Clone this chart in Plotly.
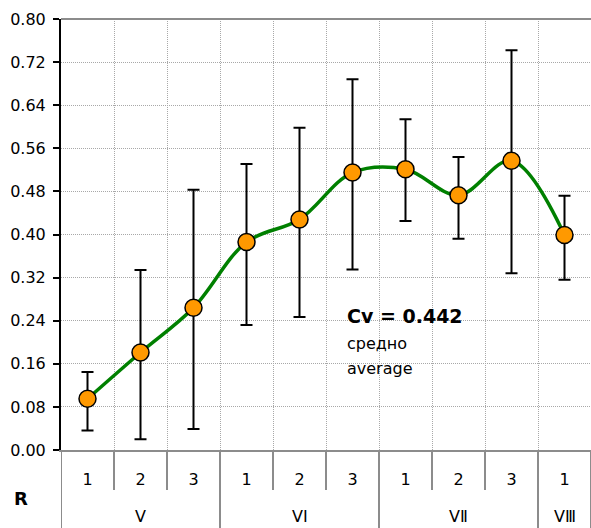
import plotly.graph_objects as go

# Sub-period labels and their grouping (Roman-numeral classes)
sub_labels = ["1", "2", "3", "1", "2", "3", "1", "2", "3", "1"]
group_labels = ["V", "VⅠ", "VⅡ", "VⅢ"]
group_sizes = [3, 3, 3, 1]

# Mean values with asymmetric spread
means = [0.095, 0.181, 0.264, 0.386, 0.428, 0.515, 0.521, 0.473, 0.537, 0.399]
upper = [0.145, 0.334, 0.483, 0.531, 0.598, 0.688, 0.614, 0.544, 0.742, 0.472]
lower = [0.036, 0.020, 0.039, 0.232, 0.247, 0.335, 0.425, 0.392, 0.328, 0.316]

y_ticks = [0.0, 0.08, 0.16, 0.24, 0.32, 0.40, 0.48, 0.56, 0.64, 0.72, 0.80]
cv_text = "Cv = 0.442"
avg_lines = ["средно", "average"]

xs = list(range(len(means)))
err_plus = [u - m for u, m in zip(upper, means)]
err_minus = [m - l for m, l in zip(means, lower)]

FONT = "DejaVu Sans, Liberation Sans, Arial, sans-serif"
GRID = "#a8a8a8"
GRID_DASH = "1px,1px"
FRAME = "#8c8c8c"

fig = go.Figure()

# smoothed trend line
fig.add_trace(go.Scatter(
    x=xs, y=means, mode="lines",
    line=dict(color="#008000", width=3.5, shape="spline", smoothing=1.0),
    hoverinfo="skip", showlegend=False,
))

# spread whiskers
fig.add_trace(go.Scatter(
    x=xs, y=means, mode="markers",
    marker=dict(size=1, color="rgba(0,0,0,0)"),
    error_y=dict(type="data", symmetric=False, array=err_plus, arrayminus=err_minus,
                 color="black", thickness=2, width=6),
    showlegend=False,
))

# mean markers
fig.add_trace(go.Scatter(
    x=xs, y=means, mode="markers",
    marker=dict(size=17, color="#FF9900", line=dict(color="black", width=1.5)),
    showlegend=False,
))

# boundaries between sub-periods and between groups
boundaries = [i + 0.5 for i in range(-1, len(xs))]
group_edges = [-0.5]
acc = -0.5
for n in group_sizes:
    acc += n
    group_edges.append(acc)

shapes = []
for b in boundaries:
    depth = 78 if b in group_edges else 40
    shapes.append(dict(type="line", xref="x", yref="paper", x0=b, x1=b,
                       y0=0, y1=-depth / 431, line=dict(color=FRAME, width=2)))
# top frame line
shapes.append(dict(type="line", xref="paper", yref="paper", x0=0, x1=1, y0=1, y1=1,
                   line=dict(color=FRAME, width=2)))

annotations = []
start = 0
for g, n in zip(group_labels, group_sizes):
    center = start + (n - 1) / 2
    annotations.append(dict(x=center, y=-66 / 431, xref="x", yref="paper",
                            text=g, showarrow=False, xanchor="center", yanchor="middle",
                            font=dict(family=FONT, size=16, color="black")))
    start += n

annotations.append(dict(x=-40 / 530, y=-48 / 431, xref="paper", yref="paper",
                        text="<b>R</b>", showarrow=False, xanchor="center", yanchor="middle",
                        font=dict(family=FONT, size=18, color="black")))

annotations.append(dict(x=4.86, y=0.249, xref="x", yref="y", text="<b>" + cv_text + "</b>",
                        showarrow=False, xanchor="left", yanchor="middle",
                        font=dict(family=FONT, size=19, color="black")))
annotations.append(dict(x=4.86, y=0.197, xref="x", yref="y", text=avg_lines[0],
                        showarrow=False, xanchor="left", yanchor="middle",
                        font=dict(family=FONT, size=16, color="black")))
annotations.append(dict(x=4.86, y=0.152, xref="x", yref="y", text=avg_lines[1],
                        showarrow=False, xanchor="left", yanchor="middle",
                        font=dict(family=FONT, size=16, color="black")))

fig.update_layout(
    width=591, height=528,
    margin=dict(l=61, r=0, t=19, b=78),
    paper_bgcolor="white", plot_bgcolor="white",
    font=dict(family=FONT, size=16, color="black"),
    shapes=shapes, annotations=annotations,
    xaxis=dict(
        range=[-0.5, len(xs) - 0.5], tickmode="array", tickvals=xs, ticktext=sub_labels,
        showgrid=False, zeroline=False, ticks="", ticklabelstandoff=14,
        showline=True, linecolor=FRAME, linewidth=2,
        tickfont=dict(family=FONT, size=16),
        minor=dict(tickmode="array", tickvals=boundaries[1:-1], showgrid=True,
                   gridcolor=GRID, gridwidth=1, griddash=GRID_DASH, ticks=""),
        fixedrange=True,
    ),
    yaxis=dict(
        range=[0, 0.8], tickmode="array", tickvals=y_ticks, tickformat=".2f",
        showgrid=True, gridcolor=GRID, gridwidth=1, griddash=GRID_DASH,
        zeroline=False, showline=True, linecolor="black", linewidth=2,
        ticks="outside", ticklen=6, tickcolor="black", tickwidth=2,
        ticklabelstandoff=4,
        tickfont=dict(family=FONT, size=16),
        fixedrange=True,
    ),
)

fig.write_html("out.html")
